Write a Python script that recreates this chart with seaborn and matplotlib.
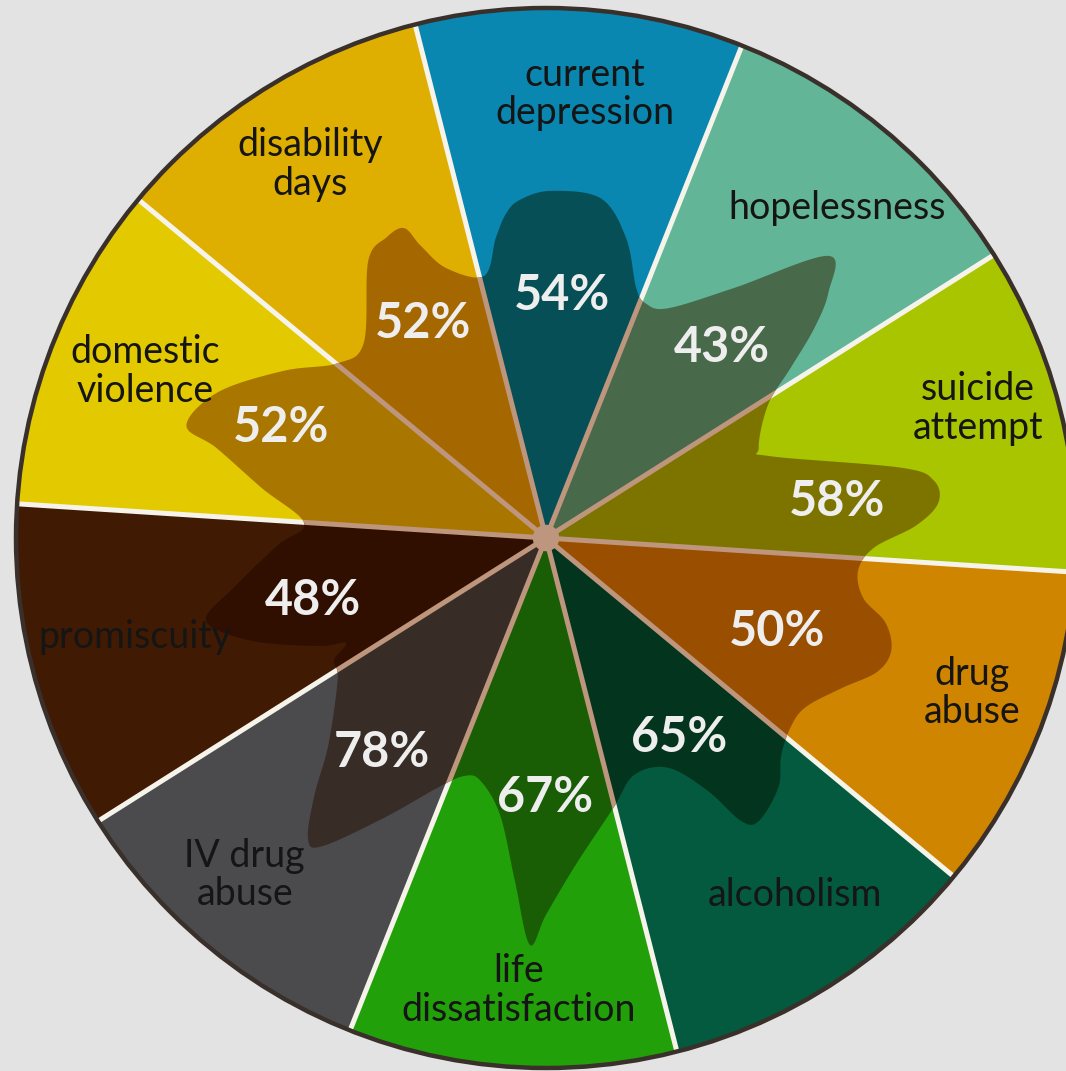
import numpy as np
import matplotlib
matplotlib.use("Agg")
import matplotlib.pyplot as plt
from matplotlib.patches import Polygon, Circle
import seaborn as sns

# slices, clockwise from the top
categories = ["current\ndepression", "hopelessness", "suicide\nattempt", "drug\nabuse",
              "alcoholism", "life\ndissatisfaction", "IV drug\nabuse", "promiscuity",
              "domestic\nviolence", "disability\ndays"]
percents = [54, 43, 58, 50, 65, 67, 78, 48, 52, 52]
slice_colors = ["#0a87b0", "#62b597", "#a8c500", "#cf8500", "#045a3e",
                "#22a00a", "#4b4b4d", "#401a03", "#e3c900", "#deaf00"]

# outline of the dark overlay shape (angle clockwise from top, radius / pie radius)
blob_angle = [0.8, 9.2, 15, 19.8, 23, 28, 37, 45, 49, 52, 55.2, 59, 67, 70, 78.8, 81.6,
              84.9, 88.1, 91.7, 96, 100.7, 104, 108, 112, 117, 123, 127.5, 132.7, 137,
              143, 145.4, 147.4, 152, 159.6, 166, 174.8, 180, 182.3, 185.2, 189.4, 195,
              198.8, 203.4, 210, 216, 218.4, 222, 226.5, 236, 240, 242.3, 244.6, 250.8,
              256.3, 261, 268.5, 273.5, 280, 285.3, 287.4, 294, 302.5, 310, 317, 327.3,
              332, 335.4, 336.8, 339.7, 346.7, 350.5, 353, 355.6]
blob_radius = [.655, .649, .585, .502, .481, .491, .591, .753, .706, .642, .562, .489,
               .436, .451, .683, .740, .743, .698, .619, .592, .609, .660, .685, .674,
               .625, .585, .583, .604, .643, .668, .649, .566, .491, .477, .525, .619,
               .711, .768, .649, .530, .475, .474, .513, .609, .719, .723, .653, .566,
               .474, .462, .426, .475, .589, .660, .596, .506, .457, .545, .645, .711,
               .677, .587, .513, .504, .621, .642, .643, .600, .543, .508, .574, .617, .640]

# label layout (angle clockwise from top, radius)
name_angle = [5.0, 41.4, 73.3, 110.0, 145.1, 183.5, 221.8, 256.5, 292.5, 327.7]
name_r = [0.841, 0.830, 0.851, 0.855, 0.821, 0.855, 0.853, 0.798, 0.819, 0.833]
pct_angle = [3.8, 42.8, 82.9, 112.1, 146.4, 180.2, 217.5, 255.1, 292.7, 330.1]
pct_r = [0.458, 0.489, 0.553, 0.471, 0.453, 0.489, 0.509, 0.455, 0.542, 0.466]

first_edge = -14.3  # degrees clockwise from top
bg = "#e3e3e3"
tan = np.array([0.745, 0.588, 0.49])  # multiply tint of the overlay

sns.set_theme(style="white")
plt.rcParams["font.family"] = ["Lato", "DejaVu Sans"]

fig = plt.figure(figsize=(10.66, 10.71), dpi=100, facecolor=bg)
ax = fig.add_axes([0, 0, 1, 1])
ax.set_facecolor(bg)


def polar_xy(ang, r):
    a = np.radians(np.asarray(ang, dtype=float))
    return np.asarray(r) * np.sin(a), np.asarray(r) * np.cos(a)


def catmull_closed(px, py, steps=14):
    pts = np.column_stack([px, py])
    n = len(pts)
    out = []
    t = np.linspace(0, 1, steps, endpoint=False)[:, None]
    for i in range(n):
        p0, p1, p2, p3 = pts[i - 1], pts[i], pts[(i + 1) % n], pts[(i + 2) % n]
        seg = 0.5 * (2 * p1 + (-p0 + p2) * t + (2 * p0 - 5 * p1 + 4 * p2 - p3) * t ** 2
                     + (-p0 + 3 * p1 - 3 * p2 + p3) * t ** 3)
        out.append(seg)
    return np.vstack(out)


sizes = np.ones(len(categories))
start = 90 - first_edge
pal = sns.color_palette(slice_colors)
dark_pal = [tuple(np.array(c) * tan) for c in pal]

# base wheel
base_wedges, _ = ax.pie(sizes, colors=pal, startangle=start, counterclock=False,
                        wedgeprops=dict(linewidth=0), radius=1.0)
for w in base_wedges:
    w.set_zorder(1)

edges = first_edge + 360 / len(categories) * np.arange(len(categories))
for e in edges:
    ex, ey = polar_xy(e, 1.0)
    ax.plot([0, ex], [0, ey], color="#f6f3ea", lw=3.6, solid_capstyle="butt", zorder=2)

# overlay shape (multiplied colours, clipped to the outline)
bx, by = polar_xy(blob_angle, blob_radius)
outline = catmull_closed(bx, by)
blob = Polygon(outline, closed=True, facecolor="none", edgecolor="none",
               transform=ax.transData)
ax.add_patch(blob)

dark_wedges, _ = ax.pie(sizes, colors=dark_pal, startangle=start, counterclock=False,
                        wedgeprops=dict(linewidth=0), radius=1.0)
for w in dark_wedges:
    w.set_zorder(4)
    w.set_clip_on(True)
    w.set_clip_path(blob)
for e in edges:
    ex, ey = polar_xy(e, 1.0)
    ln, = ax.plot([0, ex], [0, ey], color=tuple(tan), lw=3.6,
                  solid_capstyle="butt", zorder=5)
    ln.set_clip_path(blob)

ax.add_patch(Circle((0, 0), 0.025, facecolor=tuple(tan), edgecolor="none", zorder=6))
ax.add_patch(Circle((0, 0), 1.0, fill=False, edgecolor="#3a302b", lw=3.2, zorder=7))

for name, a, r in zip(categories, name_angle, name_r):
    tx, ty = polar_xy(a, r)
    ax.text(tx, ty, name, ha="center", va="center", fontsize=27, color="#151515",
            linespacing=1.1, zorder=8)

for p, a, r in zip(percents, pct_angle, pct_r):
    tx, ty = polar_xy(a, r)
    ax.text(tx, ty, f"{p}%", ha="center", va="center", fontsize=35,
            fontweight="bold", color="#eeeeee", zorder=9)

ax.set_aspect("auto")
ax.set_xlim(-546 / 530, (1066 - 546) / 530)
ax.set_ylim((538 - 1071) / 530, 538 / 530)
ax.axis("off")

fig.savefig("out.png", dpi=100, facecolor=bg)
